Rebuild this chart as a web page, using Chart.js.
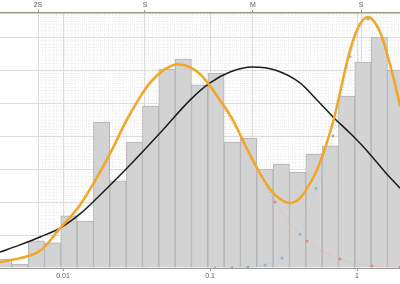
<!DOCTYPE html>
<html>
<head>
<meta charset="utf-8">
<script src="https://cdn.jsdelivr.net/npm/chart.js@4"></script>
<style>
  body { margin: 0; background: #fff; }
</style>
</head>
<body>
<canvas id="chart" width="400" height="284"></canvas>
<script>
// histogram: geometric bin centres (9 bins per decade) and bar heights
const binCenters = [0.003946, 0.005096, 0.006580, 0.008500, 0.01098, 0.01418, 0.01831, 0.02365,
  0.03055, 0.03946, 0.05096, 0.06580, 0.08500, 0.1098, 0.1418, 0.1831, 0.2365, 0.3055,
  0.3946, 0.5096, 0.6580, 0.8500, 1.098, 1.418, 1.831];
const binHeights = [0.27, 0.12, 0.82, 0.76, 1.58, 1.42, 4.42, 2.64, 3.82, 4.91, 6.03, 6.33,
  5.55, 5.91, 3.82, 3.94, 3.00, 3.15, 2.91, 3.45, 3.70, 5.21, 6.24, 7.00, 6.00];

// single normal fit (black)
const normalX = [0.003727, 0.005099, 0.006975, 0.009541, 0.01305, 0.01651, 0.02856, 0.04570,
  0.07310, 0.1, 0.1368, 0.1961, 0.2768, 0.4095, 0.5343, 0.6866, 0.8961, 1.188, 1.550, 1.961];
const normalY = [0.48, 0.70, 0.94, 1.21, 1.64, 2.06, 3.12, 4.09, 5.09, 5.61, 5.94, 6.09,
  6.00, 5.61, 5.09, 4.58, 4.09, 3.52, 2.91, 2.42];

// two-component mixture (orange)
const mixX = [0.003727, 0.005099, 0.006975, 0.009541, 0.01305, 0.01785, 0.02154, 0.02641,
  0.03341, 0.03906, 0.04941, 0.06058, 0.07310, 0.08551, 0.1, 0.1169, 0.1434, 0.1730, 0.2088,
  0.2559, 0.2993, 0.3501, 0.4095, 0.4569, 0.5343, 0.6866, 0.8961, 1.048, 1.188, 1.347,
  1.503, 1.730, 1.961];
const mixY = [0.18, 0.30, 0.52, 1.20, 1.91, 2.91, 3.58, 4.39, 5.18, 5.61, 6.03, 6.18, 6.09,
  5.88, 5.52, 5.09, 4.48, 3.73, 3.03, 2.39, 2.09, 1.97, 2.12, 2.42, 2.97, 4.42, 6.60, 7.40,
  7.61, 7.39, 6.91, 5.94, 4.94];

// mixture components (dotted)
const compAX = [0.09845, 0.1651, 0.2768, 0.4569, 0.7665, 1.265, 1.961];
const compAY = [5.55, 3.90, 2.00, 0.82, 0.27, 0.06, 0.02];
const compBX = [0.1081, 0.1411, 0.1814, 0.2366, 0.3089, 0.4095, 0.5262, 0.6866, 0.8961,
  1.188, 1.503, 1.961];
const compBY = [0.00, 0.01, 0.03, 0.09, 0.30, 1.03, 2.42, 4.00, 6.40, 7.55, 6.90, 4.94];

const bottomTicks = [0.01, 0.1, 1];
const topTicks = [0.00676, 0.0361, 0.196, 1.065];
const topLabels = ['2S', 'S', 'M', 'S'];

const xMin = 0.003727, xMax = 1.961;
const yMax = 7.73;

const pts = (xs, ys) => xs.map((x, i) => ({ x: x, y: ys[i] }));

// fine dotted grid right of the first top tick
const minorGrid = {
  id: 'minorGrid',
  beforeDraw(chart) {
    const { ctx, chartArea: a, scales } = chart;
    const x = scales.x, y = scales.y;
    const left = x.getPixelForValue(topTicks[0]);
    ctx.save();
    ctx.strokeStyle = '#efefef';
    ctx.lineWidth = 1;
    ctx.setLineDash([1, 1]);
    ctx.beginPath();
    for (let l = Math.log10(topTicks[0]); l <= Math.log10(xMax); l += 0.025) {
      const px = Math.round(x.getPixelForValue(Math.pow(10, l))) + 0.5;
      ctx.moveTo(px, a.top);
      ctx.lineTo(px, a.bottom);
    }
    for (let v = 0; v <= yMax; v += 0.1) {
      const py = Math.round(y.getPixelForValue(v)) + 0.5;
      ctx.moveTo(left, py);
      ctx.lineTo(a.right, py);
    }
    ctx.stroke();
    ctx.restore();
  }
};

Chart.defaults.font.family = "'Liberation Sans', Arial, sans-serif";

const tickFont = { size: 7 };

function fitX(h) {
  return s => { s.height = h; };
}

new Chart(document.getElementById('chart').getContext('2d'), {
  type: 'bar',
  data: {
    datasets: [
      {
        type: 'line', data: pts(mixX, mixY), borderColor: '#f2a624', borderWidth: 2.5,
        pointRadius: 0, cubicInterpolationMode: 'monotone', fill: false, order: 1
      },
      {
        type: 'line', data: pts(normalX, normalY), borderColor: '#1c1c1c', borderWidth: 1.5,
        pointRadius: 0, cubicInterpolationMode: 'monotone', fill: false, order: 2
      },
      {
        type: 'line', data: pts(compAX, compAY), borderColor: '#f3a893', borderWidth: 1,
        borderDash: [1, 2], pointRadius: 1.5, pointBackgroundColor: '#e88a74', pointBorderWidth: 0,
        cubicInterpolationMode: 'monotone', fill: false, order: 3
      },
      {
        type: 'line', data: pts(compBX, compBY), borderColor: '#a9cde2', borderWidth: 1,
        borderDash: [1, 2], pointRadius: 1.5, pointBackgroundColor: '#8db7d0', pointBorderWidth: 0,
        cubicInterpolationMode: 'monotone', fill: false, order: 4
      },
      {
        type: 'bar', data: pts(binCenters, binHeights), backgroundColor: '#d3d3d3',
        borderColor: '#b2b2b2', borderWidth: 1, barPercentage: 1, categoryPercentage: 1, order: 5
      }
    ]
  },
  options: {
    responsive: false,
    animation: false,
    layout: { padding: 0, autoPadding: false },
    plugins: { legend: { display: false }, tooltip: { enabled: false } },
    scales: {
      x: {
        type: 'logarithmic', min: xMin, max: xMax, offset: false,
        afterBuildTicks: s => { s.ticks = bottomTicks.map(v => ({ value: v })); },
        afterFit: fitX(16),
        ticks: { callback: v => String(v), font: tickFont, color: '#555', padding: 1, maxRotation: 0, autoSkip: false },
        grid: { color: '#dcdcdc', tickColor: '#999', tickLength: 3, offset: false },
        border: { color: '#9a9a9a' }
      },
      x2: {
        type: 'logarithmic', position: 'top', min: xMin, max: xMax, offset: false,
        afterBuildTicks: s => { s.ticks = topTicks.map(v => ({ value: v })); },
        afterFit: fitX(13),
        ticks: { callback: (v, i) => topLabels[i], font: tickFont, color: '#555', padding: 1, maxRotation: 0, autoSkip: false },
        grid: { color: '#dcdcdc', tickColor: '#999', tickLength: 3, offset: false },
        border: { color: '#9a9a8a', width: 1.5 }
      },
      y: {
        min: 0, max: yMax,
        afterBuildTicks: s => { s.ticks = s.ticks.filter(t => Number.isInteger(t.value)); },
        afterFit: s => { s.width = 0; },
        ticks: { display: false, stepSize: 1 },
        border: { display: false },
        grid: { color: '#dcdcdc', drawTicks: false }
      }
    }
  },
  plugins: [minorGrid]
});
</script>
</body>
</html>
